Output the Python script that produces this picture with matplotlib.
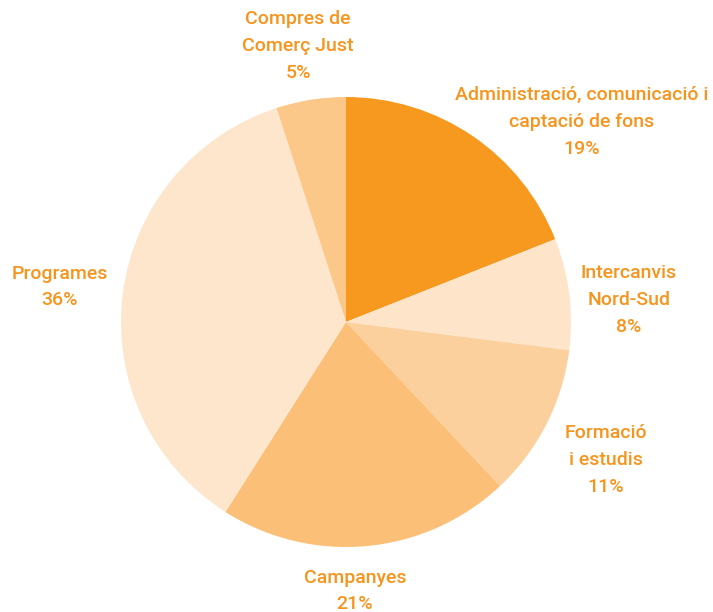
import matplotlib.pyplot as plt

# Data (clockwise from 12 o'clock)
labels = [
    "Administració, comunicació i\ncaptació de fons",
    "Intercanvis\nNord-Sud",
    "Formació\ni estudis",
    "Campanyes",
    "Programes",
    "Compres de\nComerç Just",
]
values = [19, 8, 11, 21, 36, 5]
colors = ["#F7981F", "#FEE5CA", "#FCD09C", "#FBBF78", "#FEE6CC", "#FCC88A"]

# label anchor positions in pixel space (x, y from top)
label_pos = [(582, 122), (629, 300), (606, 460), (355, 591), (60, 287), (298, 46)]

plt.rcParams["font.family"] = ["Roboto", "DejaVu Sans"]

W, H = 713, 612
fig = plt.figure(figsize=(W / 100, H / 100), dpi=100)
ax = fig.add_axes([0, 0, 1, 1])

cx, cy, r = 346, H - 322, 225
ax.pie(
    values,
    colors=colors,
    startangle=90,
    counterclock=False,
    center=(cx, cy),
    radius=r,
    frame=True,
    wedgeprops={"linewidth": 0},
)
ax.set_xlim(0, W)
ax.set_ylim(0, H)
ax.axis("off")

for lab, val, (x, y) in zip(labels, values, label_pos):
    ax.text(
        x, H - y, f"{lab}\n{val}%",
        ha="center", va="center", color="#F7941D",
        fontsize=14, fontweight="medium", linespacing=1.62,
    )

fig.savefig("out.png", dpi=100)
